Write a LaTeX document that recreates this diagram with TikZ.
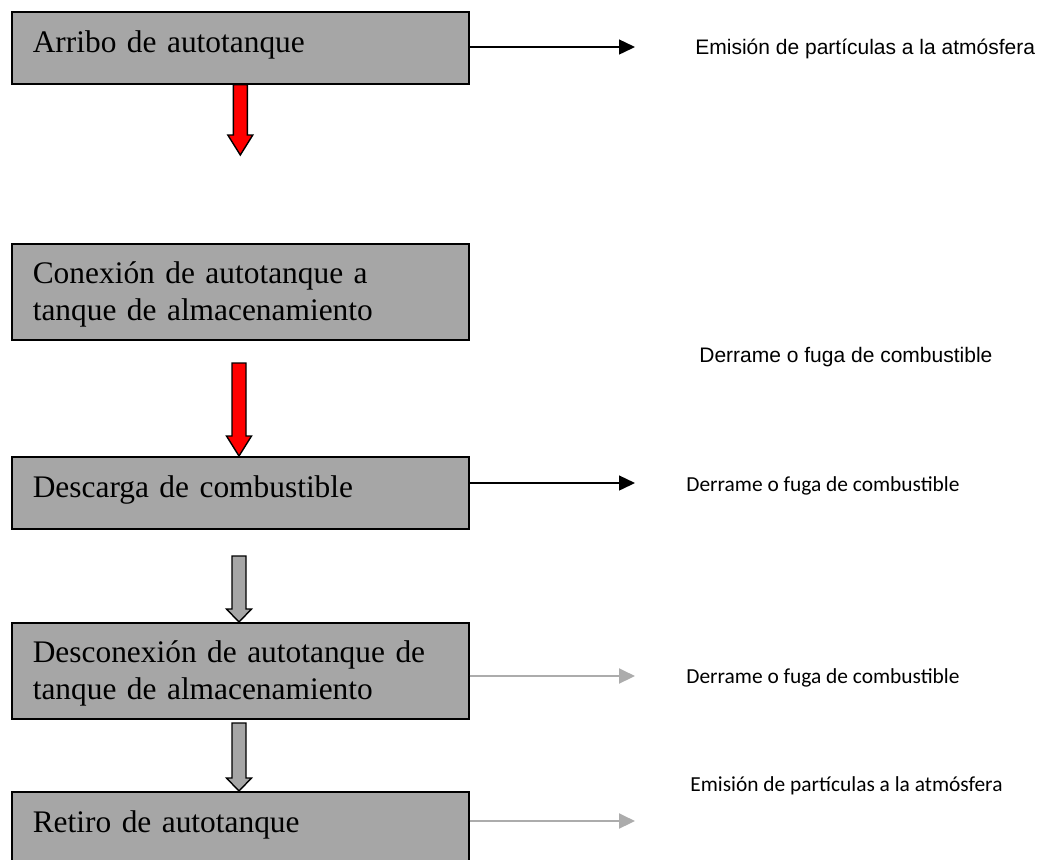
\documentclass[tikz,border=0pt]{standalone}
\usepackage{fontspec}
\setmainfont{Liberation Serif}
\newfontfamily\arialfont{Liberation Sans}
\newfontfamily\calibrifont{Carlito}
\usepackage{tikz}
\usetikzlibrary{arrows.meta,calc}
\definecolor{boxgray}{RGB}{166,166,166}
\definecolor{linegray}{RGB}{172,172,172}
\tikzset{
  stepbox/.style = {draw=black, line width=0.8pt, fill=boxgray, anchor=north west,
    text width=207.5pt, align=left, inner xsep=10.5pt, inner ysep=0pt,
    font=\fontsize{15.7}{18.5}\selectfont},
  oneline/.style = {stepbox, text height=20.5pt, text depth=15.5pt},% caja de una linea
  twoline/.style = {stepbox, text height=20pt, text depth=28pt},% caja de dos lineas
  effect/.style = {anchor=base west, inner sep=0pt, font=\arialfont\fontsize{10.5}{12}\selectfont},
  ceffect/.style = {anchor=base west, inner sep=0pt, font=\calibrifont\fontsize{10.7}{12}\selectfont},
  flowline/.style = {draw=black, line width=0.7pt, -{Triangle[length=8pt,width=7.5pt]}},
  greyline/.style = {draw=linegray, line width=1pt, -{Triangle[length=8pt,width=7.5pt]}},
}
% flecha de bloque: color, desde, hasta, largo de la punta
\newcommand{\blockarrow}[4]{%
  \path[draw=black, line width=0.7pt, fill=#1] let \p1=(#2), \p2=(#3) in
    (\x1-3.5pt,\y1) -- (\x1-3.5pt,\y2+#4) -- (\x1-6.25pt,\y2+#4) -- (\x1,\y2)
    -- (\x1+6.25pt,\y2+#4) -- (\x1+3.5pt,\y2+#4) -- (\x1+3.5pt,\y1) -- cycle;}

\begin{document}
\begin{tikzpicture}[x=0.5pt,y=-0.5pt]
  \path[use as bounding box] (0,0) rectangle (1043,859);

  % etapas
  \node[oneline] (arribo) at (11,11) {Arribo de autotanque};
  \node[twoline] (conexion) at (11,243) {Conexión de autotanque a\\tanque de almacenamiento};
  \node[oneline] (descarga) at (11,456) {Descarga de combustible};
  \node[twoline] (desconexion) at (11,622) {Desconexión de autotanque de\\tanque de almacenamiento};
  \node[oneline] (retiro) at (11,791) {Retiro de autotanque};

  % efectos
  \node[effect] (emision1) at (695,54) {Emisión de partículas a la atmósfera};
  \node[effect] (derrame1) at (699,362) {Derrame o fuga de combustible};
  \node[ceffect] (derrame2) at (686,491) {Derrame o fuga de combustible};
  \node[ceffect] (derrame3) at (686,683) {Derrame o fuga de combustible};
  \node[ceffect] (emision2) at (690,791) {Emisión de partículas a la atmósfera};

  % extremos libres
  \coordinate (tipA) at (239,155);
  \coordinate (startB) at (239,363);
  \coordinate (startC) at (239,556);
  \coordinate (startD) at (239,723);
  \coordinate (endA) at (635,47);
  \coordinate (endC) at (635,483);
  \coordinate (endD) at (635,676);
  \coordinate (endE) at (635,821);

  % flechas verticales
  \blockarrow{red}{arribo.south}{tipA}{10pt}
  \blockarrow{red}{startB}{descarga.north}{10pt}
  \blockarrow{boxgray}{startC}{desconexion.north}{6.5pt}
  \blockarrow{boxgray}{startD}{retiro.north}{6.5pt}

  % flechas horizontales
  \draw[flowline] (arribo.east |- endA) -- (endA);
  \draw[flowline] (descarga.east |- endC) -- (endC);
  \draw[greyline] (desconexion.east |- endD) -- (endD);
  \draw[greyline] (retiro.east |- endE) -- (endE);
\end{tikzpicture}
\end{document}
